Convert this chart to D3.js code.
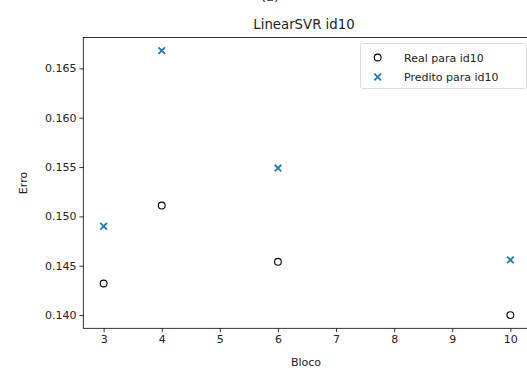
<!DOCTYPE html>
<html>
<head>
<meta charset="utf-8">
<script src="https://cdn.jsdelivr.net/npm/d3@7"></script>
<style>
  body { margin: 0; background: #fff; overflow: hidden; }
  svg { display: block; font-family: "DejaVu Sans", sans-serif; }
</style>
</head>
<body>
<div id="chart"></div>
<script>
// Width and height
var chart_width  = 527;
var chart_height = 372;

// data
var blocos      = [3, 4, 6, 10];
var real_vals   = [0.1432, 0.1511, 0.1454, 0.1400];
var pred_vals   = [0.1490, 0.1668, 0.1549, 0.1456];
var x_ticks     = [3, 4, 5, 6, 7, 8, 9, 10];
var y_ticks     = [0.140, 0.145, 0.150, 0.155, 0.160, 0.165];
var legend_labels = ["Real para id10", "Predito para id10"];

// plot area (right edge falls just outside the picture)
var plot_left = 83.3, plot_right = 530.7, plot_top = 37.4, plot_bottom = 328.3;

// matplotlib-like 5% margins
function padded(vals){
  var lo = d3.min(vals), hi = d3.max(vals), m = (hi - lo) * 0.05;
  return [lo - m, hi + m];
}

var x = d3.scaleLinear().domain(padded(blocos)).range([plot_left, plot_right]);
var y = d3.scaleLinear().domain(padded(real_vals.concat(pred_vals))).range([plot_bottom, plot_top]);

var svg = d3.select("#chart")
  .append("svg")
  .attr("width", chart_width)
  .attr("height", chart_height);

// caption above, cut off by the picture edge
svg.append("text")
  .attr("x", 270).attr("y", 0.5)
  .attr("text-anchor", "middle")
  .attr("font-size", 13)
  .attr("fill", "#222")
  .text("(a)");

// title
svg.append("text")
  .attr("x", 304).attr("y", 29)
  .attr("text-anchor", "middle")
  .attr("font-size", 13.3)
  .attr("fill", "#222")
  .text("LinearSVR id10");

// axes
var xAxis = d3.axisBottom(x).tickValues(x_ticks).tickSize(3.9).tickPadding(3).tickFormat(d3.format("d"));
var yAxis = d3.axisLeft(y).tickValues(y_ticks).tickSize(3.9).tickPadding(3).tickFormat(d3.format(".3f"));

var gx = svg.append("g").attr("transform", "translate(0," + plot_bottom + ")").call(xAxis);
var gy = svg.append("g").attr("transform", "translate(" + plot_left + ",0)").call(yAxis);
[gx, gy].forEach(function(g){
  g.select(".domain").remove();
  g.selectAll("line").attr("stroke", "#000").attr("stroke-width", 0.8);
  g.selectAll("text").attr("font-size", 11).attr("fill", "#222").attr("font-family", "DejaVu Sans");
});

// frame
svg.append("rect")
  .attr("x", plot_left).attr("y", plot_top)
  .attr("width", plot_right - plot_left).attr("height", plot_bottom - plot_top)
  .attr("fill", "none").attr("stroke", "#000").attr("stroke-width", 0.8);

// axis labels
svg.append("text")
  .attr("x", 306).attr("y", 366)
  .attr("text-anchor", "middle")
  .attr("font-size", 11).attr("fill", "#222")
  .text("Bloco");
svg.append("text")
  .attr("transform", "translate(27,183) rotate(-90)")
  .attr("text-anchor", "middle")
  .attr("font-size", 11).attr("fill", "#222")
  .text("Erro");

// markers
var blue = "#1f77b4";
function cross(g, cx, cy, s){
  g.append("path")
    .attr("d", "M" + (cx - s) + "," + (cy - s) + "L" + (cx + s) + "," + (cy + s) +
               "M" + (cx - s) + "," + (cy + s) + "L" + (cx + s) + "," + (cy - s))
    .attr("stroke", blue).attr("stroke-width", 1.8).attr("fill", "none");
}

svg.selectAll("circle.real")
  .data(blocos)
  .enter()
  .append("circle")
  .attr("class", "real")
  .attr("cx", function(d){ return x(d); })
  .attr("cy", function(d, i){ return y(real_vals[i]); })
  .attr("r", 3.4)
  .attr("fill", "none")
  .attr("stroke", "#000")
  .attr("stroke-width", 1.1);

var gp = svg.append("g");
blocos.forEach(function(d, i){
  cross(gp, x(d), y(pred_vals[i]), 3.3);
});

// legend
var lg = svg.append("g");
lg.append("rect")
  .attr("x", 360.5).attr("y", 43.5)
  .attr("width", 166).attr("height", 45)
  .attr("rx", 2.5)
  .attr("fill", "#fff").attr("fill-opacity", 0.8)
  .attr("stroke", "#d0d0d0").attr("stroke-width", 0.8);
lg.append("circle")
  .attr("cx", 377.7).attr("cy", 57.5).attr("r", 3.4)
  .attr("fill", "none").attr("stroke", "#000").attr("stroke-width", 1.1);
cross(lg, 377.7, 77, 3.3);
lg.selectAll("text")
  .data(legend_labels)
  .enter()
  .append("text")
  .attr("x", 404)
  .attr("y", function(d, i){ return 61.5 + i * 19.5; })
  .attr("font-size", 11).attr("fill", "#222")
  .text(function(d){ return d; });
</script>
</body>
</html>
